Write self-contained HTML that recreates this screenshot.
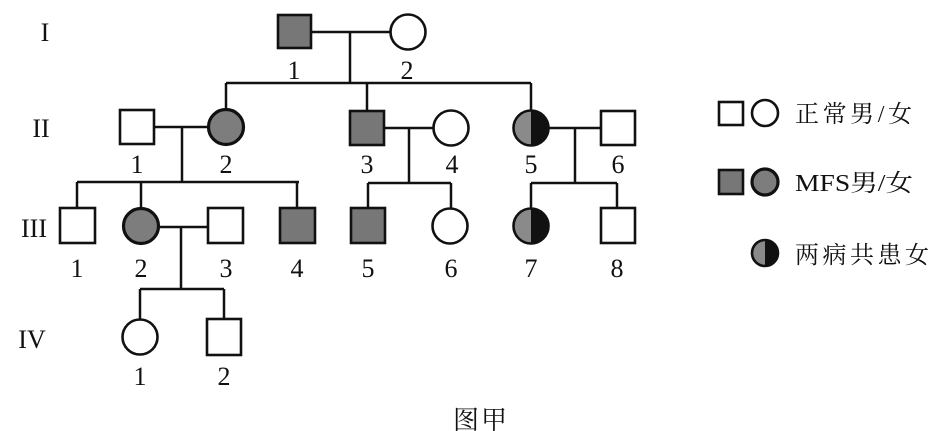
<!DOCTYPE html>
<html><head><meta charset="utf-8"><style>
html,body{margin:0;padding:0;background:#fff;}
svg{display:block;}
text{font-family:"Liberation Serif","Noto Serif CJK SC",serif;fill:#111;}
</style></head><body>
<svg width="947" height="431" viewBox="0 0 947 431" xmlns="http://www.w3.org/2000/svg">
<g stroke="#111" stroke-width="2.5" fill="none">
<line x1="311" y1="32" x2="390" y2="32"/>
<line x1="350" y1="32" x2="350" y2="83"/>
<line x1="226" y1="83" x2="531" y2="83"/>
<line x1="226" y1="83" x2="226" y2="110"/>
<line x1="367" y1="83" x2="367" y2="111"/>
<line x1="531" y1="83" x2="531" y2="112"/>
<line x1="154" y1="127" x2="209" y2="127"/>
<line x1="182" y1="127" x2="182" y2="182"/>
<line x1="77" y1="182" x2="299" y2="182"/>
<line x1="77" y1="182" x2="77" y2="208"/>
<line x1="141" y1="182" x2="141" y2="208"/>
<line x1="297" y1="182" x2="297" y2="208"/>
<line x1="384" y1="128" x2="434" y2="128"/>
<line x1="409" y1="128" x2="409" y2="183"/>
<line x1="368" y1="183" x2="451" y2="183"/>
<line x1="368" y1="183" x2="368" y2="208"/>
<line x1="451" y1="183" x2="451" y2="208"/>
<line x1="548" y1="128" x2="601" y2="128"/>
<line x1="575" y1="128" x2="575" y2="183"/>
<line x1="531" y1="183" x2="617" y2="183"/>
<line x1="531" y1="183" x2="531" y2="208"/>
<line x1="617" y1="183" x2="617" y2="208"/>
<line x1="159" y1="227" x2="208" y2="227"/>
<line x1="181" y1="227" x2="181" y2="289"/>
<line x1="140" y1="289" x2="224" y2="289"/>
<line x1="140" y1="289" x2="140" y2="319"/>
<line x1="224" y1="289" x2="224" y2="319"/>
</g>
<g stroke="#111" stroke-width="2.6">
<rect x="278" y="15" width="33" height="33" fill="#777"/>
<circle cx="408" cy="32" r="17.5" fill="#fff"/>
<rect x="120" y="110" width="34" height="34" fill="#fff"/>
<circle cx="226" cy="127" r="17.5" fill="#7d7d7d" stroke-width="3.2"/>
<rect x="350" y="111" width="34" height="34" fill="#777"/>
<circle cx="451" cy="128" r="17.5" fill="#fff"/>
<path d="M531 110.5 A17.5 17.5 0 0 0 531 145.5 Z" fill="#8a8a8a" stroke="none"/>
<path d="M531 110.5 A17.5 17.5 0 0 1 531 145.5 Z" fill="#111" stroke="none"/>
<circle cx="531" cy="128" r="17.5" fill="none"/>
<rect x="601" y="111" width="34" height="34" fill="#fff"/>
<rect x="60" y="208" width="35" height="35" fill="#fff"/>
<circle cx="141" cy="226" r="17.5" fill="#7d7d7d" stroke-width="3.2"/>
<rect x="208" y="208" width="35" height="35" fill="#fff"/>
<rect x="280" y="208" width="35" height="35" fill="#777"/>
<rect x="351" y="208" width="34" height="35" fill="#777"/>
<circle cx="450" cy="226" r="17.5" fill="#fff"/>
<path d="M531 208.5 A17.5 17.5 0 0 0 531 243.5 Z" fill="#8a8a8a" stroke="none"/>
<path d="M531 208.5 A17.5 17.5 0 0 1 531 243.5 Z" fill="#111" stroke="none"/>
<circle cx="531" cy="226" r="17.5" fill="none"/>
<rect x="601" y="208" width="34" height="35" fill="#fff"/>
<circle cx="140" cy="337" r="17.5" fill="#fff"/>
<rect x="207" y="319" width="34" height="36" fill="#fff"/>
<rect x="719" y="102" width="24" height="23" fill="#fff"/>
<circle cx="765" cy="113" r="13" fill="#fff"/>
<rect x="719" y="170" width="24" height="24" fill="#777"/>
<circle cx="765" cy="182" r="13" fill="#7d7d7d" stroke-width="3.2"/>
<path d="M765 240 A13 13 0 0 0 765 266 Z" fill="#8a8a8a" stroke="none"/>
<path d="M765 240 A13 13 0 0 1 765 266 Z" fill="#111" stroke="none"/>
<circle cx="765" cy="253" r="13" fill="none"/>
</g>
<g font-size="26" text-anchor="middle">
<text x="45" y="41">I</text>
<text x="41" y="137">II</text>
<text x="34" y="237">III</text>
<text x="32" y="348">IV</text>
<text x="294" y="79">1</text>
<text x="407" y="79">2</text>
<text x="137" y="173">1</text>
<text x="226" y="173">2</text>
<text x="367" y="173">3</text>
<text x="452" y="173">4</text>
<text x="531" y="173">5</text>
<text x="618" y="173">6</text>
<text x="77" y="277">1</text>
<text x="141" y="277">2</text>
<text x="226" y="277">3</text>
<text x="297" y="277">4</text>
<text x="368" y="277">5</text>
<text x="451" y="277">6</text>
<text x="531" y="277">7</text>
<text x="617" y="277">8</text>
<text x="140" y="385">1</text>
<text x="224" y="385">2</text>
</g>
<g font-size="24">
<text x="795" y="122" textLength="117" lengthAdjust="spacing">正常男/女</text>
<text x="795" y="191" textLength="118" lengthAdjust="spacingAndGlyphs">MFS男/女</text>
<text x="795" y="263" textLength="134" lengthAdjust="spacing">两病共患女</text>
<text x="453" y="429" font-size="26" textLength="54" lengthAdjust="spacing">图甲</text>
</g>
</svg>
</body></html>
